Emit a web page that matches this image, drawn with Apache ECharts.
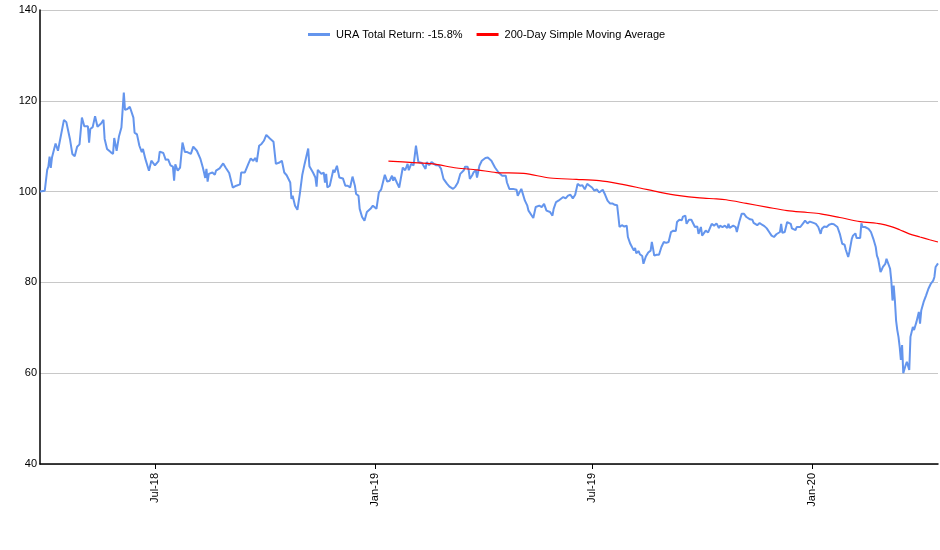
<!DOCTYPE html>
<html>
<head>
<meta charset="utf-8">
<script src="https://cdn.jsdelivr.net/npm/echarts@6/dist/echarts.min.js"></script>
<style>html,body{margin:0;padding:0;background:#fff}#c{width:940px;height:550px}</style>
</head>
<body>
<div id="c"></div>
<script>
var uraName = 'URA Total Return: -15.8%';
var smaName = '200-Day Simple Moving Average';
var tickDates = ['2018-07-01', '2019-01-01', '2019-07-01', '2020-01-01'];
var tickLabels = ['Jul-18', 'Jan-19', 'Jul-19', 'Jan-20'];
var yTicks = [40, 60, 80, 100, 120, 140];

var uraDates = [
'2018-03-27','2018-03-31','2018-04-02','2018-04-03','2018-04-04','2018-04-05','2018-04-06','2018-04-09','2018-04-11','2018-04-16','2018-04-18','2018-04-21','2018-04-23','2018-04-25','2018-04-27','2018-04-29',
'2018-05-01','2018-05-03','2018-05-06','2018-05-07','2018-05-08','2018-05-10','2018-05-12','2018-05-14','2018-05-17','2018-05-19','2018-05-20','2018-05-22','2018-05-25','2018-05-27','2018-05-28','2018-05-30',
'2018-06-01','2018-06-03','2018-06-05','2018-06-06','2018-06-08','2018-06-10','2018-06-13','2018-06-14','2018-06-16','2018-06-18','2018-06-20','2018-06-21','2018-06-23','2018-06-26','2018-06-28',
'2018-07-01','2018-07-04','2018-07-05','2018-07-08','2018-07-10','2018-07-12','2018-07-14','2018-07-16','2018-07-17','2018-07-18','2018-07-20','2018-07-22','2018-07-24','2018-07-26','2018-07-28','2018-07-31',
'2018-08-02','2018-08-05','2018-08-08','2018-08-10','2018-08-11','2018-08-12','2018-08-13','2018-08-14','2018-08-15','2018-08-18','2018-08-20','2018-08-21','2018-08-24','2018-08-27','2018-08-29',
'2018-09-01','2018-09-04','2018-09-07','2018-09-10','2018-09-11','2018-09-14','2018-09-15','2018-09-17','2018-09-19','2018-09-21','2018-09-23','2018-09-24','2018-09-26','2018-09-28','2018-09-30',
'2018-10-02','2018-10-05','2018-10-08','2018-10-10','2018-10-13','2018-10-15','2018-10-17','2018-10-19','2018-10-22','2018-10-23','2018-10-24','2018-10-26','2018-10-28','2018-10-30',
'2018-11-01','2018-11-03','2018-11-06','2018-11-07','2018-11-10','2018-11-12','2018-11-13','2018-11-14','2018-11-17','2018-11-19','2018-11-20','2018-11-21','2018-11-22','2018-11-24','2018-11-27','2018-11-28','2018-11-30',
'2018-12-02','2018-12-05','2018-12-07','2018-12-09','2018-12-11','2018-12-13','2018-12-15','2018-12-16','2018-12-18','2018-12-19','2018-12-21','2018-12-23','2018-12-25','2018-12-28','2018-12-30',
'2019-01-02','2019-01-04','2019-01-06','2019-01-09','2019-01-11','2019-01-13','2019-01-15','2019-01-16','2019-01-17','2019-01-19','2019-01-21','2019-01-24','2019-01-26','2019-01-28','2019-01-29','2019-01-31',
'2019-02-02','2019-02-04','2019-02-06','2019-02-09','2019-02-12','2019-02-13','2019-02-15','2019-02-17','2019-02-19','2019-02-21','2019-02-23','2019-02-25','2019-02-27',
'2019-03-02','2019-03-04','2019-03-07','2019-03-09','2019-03-11','2019-03-13','2019-03-16','2019-03-17','2019-03-19','2019-03-20','2019-03-21','2019-03-23','2019-03-24','2019-03-26','2019-03-27','2019-03-29','2019-03-31',
'2019-04-03','2019-04-05','2019-04-08','2019-04-11','2019-04-14','2019-04-17','2019-04-20','2019-04-21','2019-04-23','2019-04-24','2019-04-26','2019-04-29','2019-04-30',
'2019-05-03','2019-05-04','2019-05-06','2019-05-08','2019-05-09','2019-05-10','2019-05-13','2019-05-15','2019-05-16','2019-05-18','2019-05-20','2019-05-22','2019-05-24','2019-05-27','2019-05-29','2019-05-30',
'2019-06-01','2019-06-03','2019-06-04','2019-06-07','2019-06-09','2019-06-11','2019-06-13','2019-06-15','2019-06-17','2019-06-19','2019-06-21','2019-06-23','2019-06-25','2019-06-27','2019-06-29',
'2019-07-01','2019-07-03','2019-07-05','2019-07-07','2019-07-10','2019-07-12','2019-07-14','2019-07-16','2019-07-18','2019-07-20','2019-07-22','2019-07-23','2019-07-24','2019-07-26','2019-07-28','2019-07-30','2019-07-31',
'2019-08-02','2019-08-05','2019-08-06','2019-08-07','2019-08-09','2019-08-10','2019-08-12','2019-08-13','2019-08-15','2019-08-17','2019-08-19','2019-08-20','2019-08-21','2019-08-22','2019-08-24','2019-08-26','2019-08-28','2019-08-30',
'2019-09-01','2019-09-03','2019-09-05','2019-09-07','2019-09-09','2019-09-10','2019-09-12','2019-09-14','2019-09-15','2019-09-17','2019-09-18','2019-09-20','2019-09-22','2019-09-23','2019-09-25','2019-09-27','2019-09-28','2019-09-30',
'2019-10-01','2019-10-02','2019-10-04','2019-10-06','2019-10-07','2019-10-09','2019-10-11','2019-10-13','2019-10-15','2019-10-16','2019-10-18','2019-10-20','2019-10-22','2019-10-23','2019-10-24','2019-10-27','2019-10-29','2019-10-30',
'2019-11-01','2019-11-03','2019-11-05','2019-11-07','2019-11-10','2019-11-12','2019-11-13','2019-11-14','2019-11-16','2019-11-18','2019-11-20','2019-11-22','2019-11-24','2019-11-26','2019-11-28','2019-11-30',
'2019-12-02','2019-12-05','2019-12-06','2019-12-07','2019-12-09','2019-12-11','2019-12-12','2019-12-14','2019-12-15','2019-12-16','2019-12-18','2019-12-19','2019-12-22','2019-12-24','2019-12-26','2019-12-28','2019-12-30','2019-12-31',
'2020-01-02','2020-01-04','2020-01-06','2020-01-08','2020-01-09','2020-01-11','2020-01-12','2020-01-13','2020-01-15','2020-01-17','2020-01-19','2020-01-22','2020-01-24','2020-01-26','2020-01-28','2020-01-29','2020-01-31',
'2020-02-01','2020-02-03','2020-02-04','2020-02-06','2020-02-07','2020-02-10','2020-02-11','2020-02-12','2020-02-14','2020-02-17','2020-02-19','2020-02-21','2020-02-23','2020-02-24','2020-02-25','2020-02-27','2020-02-28','2020-02-29',
'2020-03-02','2020-03-03','2020-03-04','2020-03-06','2020-03-07','2020-03-08','2020-03-09','2020-03-10','2020-03-11','2020-03-12','2020-03-13','2020-03-14','2020-03-15','2020-03-16','2020-03-17','2020-03-19','2020-03-20','2020-03-22','2020-03-23','2020-03-25','2020-03-26','2020-03-28','2020-03-30','2020-03-31',
'2020-04-01','2020-04-03','2020-04-05','2020-04-07','2020-04-09','2020-04-11','2020-04-12','2020-04-13','2020-04-15'
];
var uraValues = [
100,100.2,104.8,105.5,107.7,105.2,107.5,110.6,109.0,115.8,115.3,111.6,108.3,107.8,109.9,110.4,
116.3,114.4,114.4,110.8,113.8,114.2,116.6,114.3,115.0,115.8,111.6,109.4,108.7,108.3,111.8,109.0,
112.2,114.1,121.8,118.0,118.2,118.7,116.3,113.0,112.6,110.1,108.7,109.4,107.2,104.6,106.8,
105.8,106.7,108.8,108.5,107.0,107.1,105.8,105.5,102.4,106.0,104.6,105.3,110.8,108.7,108.7,108.3,
109.9,109.0,107.2,105.3,104.2,103.0,105.0,102.2,103.9,104.2,103.7,104.6,105.1,106.2,105.3,
104.1,100.9,101.3,101.6,104.2,104.2,104.4,106.1,107.3,106.8,107.4,106.5,110.1,110.5,111.2,
112.5,111.7,111.0,106.1,106.4,106.8,104.2,103.6,102.0,98.4,99.1,96.9,96.0,99.5,
103.6,106.1,109.5,105.6,104.2,103.1,101.1,104.8,103.9,104.2,102.0,103.9,100.9,101.3,104.8,104.2,105.7,
103.1,102.9,101.3,101.3,100.9,103.3,101.3,99.5,99.1,96.2,94.4,93.6,95.5,96.2,96.9,
96.2,99.8,100.5,103.7,102.2,102.4,103.5,102.4,103.2,102.0,100.9,105.3,104.7,106.1,104.7,106.1,
105.8,110.1,106.5,106.3,105.0,106.5,105.8,106.5,106.1,105.8,105.8,105.0,102.8,
101.7,101.1,100.6,101.1,102.0,103.9,104.7,105.5,105.5,104.8,102.8,103.6,104.2,104.7,103.1,105.7,106.8,
107.4,107.5,106.8,105.3,104.2,103.5,103.5,102.0,100.6,100.2,100.6,100.4,99.1,
100.6,100.2,98.0,96.9,95.8,96.2,94.2,96.6,96.2,96.9,96.6,97.3,95.8,95.5,94.7,96.2,
97.7,98.0,97.7,98.8,98.5,99.1,99.3,98.5,99.3,101.7,101.3,101.4,100.5,101.7,101.3,
100.9,100.2,100.5,99.8,100.4,99.3,98.0,97.4,97.4,97.1,97.0,94.7,92.2,92.6,92.3,92.5,90.0,
88.5,87.0,87.6,86.4,86.9,86.2,85.8,84.1,85.7,86.6,87.0,88.9,87.5,85.9,86.1,86.1,87.8,88.9,
88.7,88.9,91.1,91.4,91.3,93.3,93.8,93.7,94.5,94.7,92.9,93.8,93.8,93.6,92.2,92.3,90.7,92.2,
90.3,90.7,91.4,91.0,90.8,92.9,92.5,93.0,92.0,92.5,92.2,92.5,92.0,92.9,92.0,92.5,92.2,91.1,
93.3,95.1,95.1,94.4,93.9,93.8,93.1,93.5,92.6,93.1,92.7,92.4,91.9,91.1,90.3,90.0,
90.6,91.1,92.9,90.9,91.1,93.3,92.9,92.9,91.9,92.2,91.5,92.2,92.2,92.9,93.6,93.0,93.4,93.0,
93.1,92.9,92.2,90.7,91.8,92.3,92.5,92.2,92.7,92.9,92.8,92.2,90.7,88.5,88.3,87.2,85.6,
86.7,89.6,90.3,90.8,89.8,89.8,93.0,92.2,92.2,91.8,91.1,89.6,87.8,85.9,85.2,82.3,82.8,83.4,
84.1,85.2,84.8,83.0,80.4,76.0,79.3,76.0,71.6,69.5,68.0,65.8,62.9,66.2,60.0,61.8,62.5,60.7,68.0,70.2,69.5,71.3,73.5,70.9,
73.8,75.7,77.1,78.6,79.7,80.4,81.2,83.4,84.2
];

var smaDates = [
'2019-01-12','2019-02-02','2019-02-18','2019-03-10','2019-03-27','2019-04-12','2019-05-05','2019-05-27','2019-06-18','2019-07-07','2019-07-24','2019-08-10','2019-08-26','2019-09-12','2019-09-29','2019-10-13','2019-10-21','2019-11-07','2019-11-24','2019-12-11','2019-12-28',
'2020-01-08','2020-01-24','2020-02-10','2020-02-27','2020-03-07','2020-03-14','2020-03-22','2020-03-31','2020-04-08','2020-04-15'
];
var smaValues = [
106.7,106.4,106.1,105.2,104.8,104.2,104.0,103.0,102.7,102.4,101.7,100.8,99.9,99.1,98.6,98.4,98.2,97.4,96.6,95.8,95.4,
95.1,94.3,93.4,92.9,92.3,91.6,90.7,90.0,89.4,88.9
];

function zip(d, v) { var out = []; for (var i = 0; i < d.length; i++) out.push([d[i], v[i]]); return out; }
function labelFor(v) {
  for (var k = 0; k < tickDates.length; k++) {
    if (Math.abs(echarts.time.parse(tickDates[k]).getTime() - v) < 2 * 86400000) return tickLabels[k];
  }
  return '';
}

var DAY = 86400000;
var chart = echarts.init(document.getElementById('c'), null, { renderer: 'canvas' });
var FONT = 'Liberation Sans, Arial, sans-serif';
chart.setOption({
  animation: false,
  backgroundColor: '#fff',
  textStyle: { fontFamily: FONT },
  legend: {
    top: 24, left: 303,
    icon: 'rect', itemWidth: 22, itemHeight: 3, itemGap: 14,
    textStyle: { fontSize: 11, color: '#000', fontFamily: FONT, padding: [0, 0, 0, 1] },
    data: [uraName, smaName]
  },
  grid: { left: 40, right: 2, top: 10, bottom: 86 },
  xAxis: {
    type: 'time',
    min: '2018-03-27', max: '2020-04-15',
    splitNumber: 4,
    minInterval: 182 * DAY, maxInterval: 183 * DAY,
    axisLine: { lineStyle: { color: '#000', width: 1.5 } },
    axisTick: { show: true, length: 5, lineStyle: { color: '#000' } },
    axisLabel: {
      rotate: 90, margin: 9, fontSize: 11, color: '#000', fontFamily: FONT,
      showMinLabel: false, showMaxLabel: false,
      formatter: function (v) { return labelFor(v); }
    },
    splitLine: { show: false }
  },
  yAxis: {
    type: 'value', min: yTicks[0], max: yTicks[yTicks.length - 1], interval: 20,
    axisLine: { show: true, lineStyle: { color: '#000', width: 1.5 } },
    axisTick: { show: false },
    axisLabel: { fontSize: 11, color: '#000', margin: 3, fontFamily: FONT },
    splitLine: { lineStyle: { color: '#c8c8c8', width: 1 } }
  },
  series: [
    { name: uraName, type: 'line', data: zip(uraDates, uraValues), showSymbol: false, symbol: 'none',
      lineStyle: { color: '#6495ED', width: 2 }, itemStyle: { color: '#6495ED' } },
    { name: smaName, type: 'line', data: zip(smaDates, smaValues), showSymbol: false, symbol: 'none', smooth: 0.3,
      lineStyle: { color: '#FF0000', width: 1.2 }, itemStyle: { color: '#FF0000' } }
  ]
});
</script>
</body>
</html>
